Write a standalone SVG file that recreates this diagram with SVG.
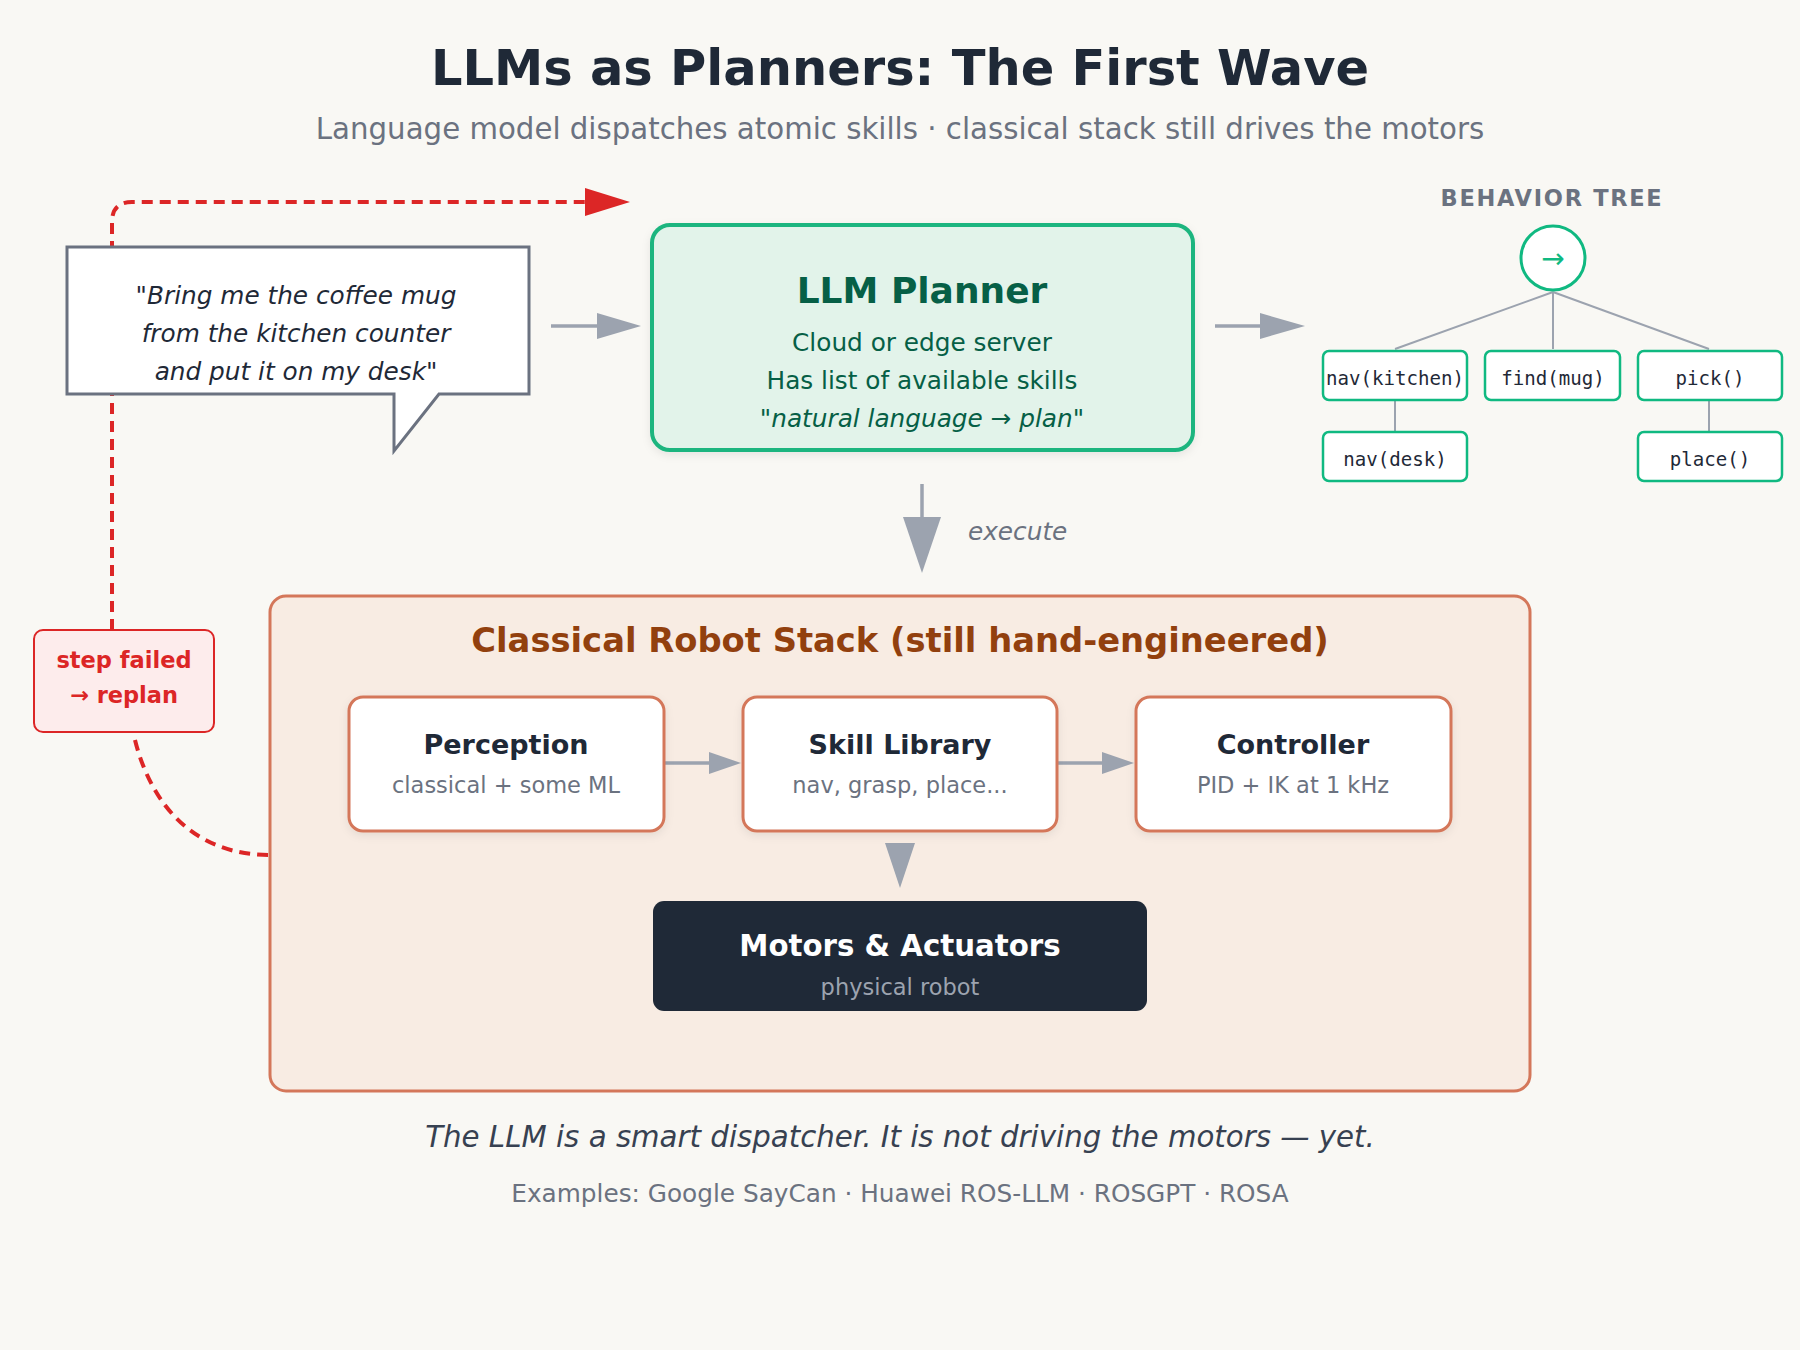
<svg xmlns="http://www.w3.org/2000/svg" width="1800" height="1350" viewBox="0 0 1800 1350">
<defs>
<style>
text{font-family:"DejaVu Sans","Liberation Sans",sans-serif}
.title{font-size:49.5px;font-weight:bold;fill:#1f2937;text-anchor:middle}
.sub{font-size:29.25px;fill:#6b7280;text-anchor:middle}
.bub{font-size:24.75px;font-style:italic;fill:#1f2937;text-anchor:middle}
.llmT{font-size:36px;font-weight:bold;fill:#065f46;text-anchor:middle}
.llmB{font-size:24.75px;fill:#065f46;text-anchor:middle}
.btL{font-size:22.5px;font-weight:bold;fill:#6b7280;text-anchor:middle;letter-spacing:1.7px}
.mono{font-family:"DejaVu Sans Mono","Liberation Mono",monospace;font-size:19.1px;fill:#1f2937;text-anchor:middle}
.btbox{fill:#ffffff;stroke:#10b981;stroke-width:2.5}
.btline{stroke:#9ca3af;stroke-width:2;fill:none}
.conn{stroke:#9ca3af;stroke-width:3.5;fill:none}
.head{fill:#9ca3af}
.stackT{font-size:33.75px;font-weight:bold;fill:#92400e;text-anchor:middle}
.inner{fill:#ffffff;stroke:#d4775a;stroke-width:3}
.inT{font-size:27px;font-weight:bold;fill:#1f2937;text-anchor:middle}
.inS{font-size:22.5px;fill:#6b7280;text-anchor:middle}
.red{stroke:#dc2626;stroke-width:4;fill:none;stroke-dasharray:11 7}
.redT{font-size:22.5px;font-weight:bold;fill:#dc2626;text-anchor:middle}
</style>
<filter id="sh" x="-10%" y="-10%" width="120%" height="130%">
<feDropShadow dx="0" dy="3" stdDeviation="4" flood-color="#000000" flood-opacity="0.08"/>
</filter>
</defs>
<rect width="1800" height="1350" fill="#f9f8f4"/>

<g id="header">
<text class="title" x="900" y="85">LLMs as Planners: The First Wave</text>
<text class="sub" x="900" y="139">Language model dispatches atomic skills · classical stack still drives the motors</text>
</g>

<g id="connectors">
<path class="red" d="M112 630 L112 222 Q112 202 132 202 L590 202"/>
<polygon points="585,188 630,202 585,216" fill="#dc2626"/>
<path class="red" d="M135 740 C150 800 190 855 270 855"/>
<line class="conn" x1="551" y1="326" x2="600" y2="326"/>
<polygon class="head" points="597,313 641,326 597,339"/>
<line class="conn" x1="1215" y1="326" x2="1263" y2="326"/>
<polygon class="head" points="1260,313 1305,326 1260,339"/>
<line class="conn" x1="922" y1="484" x2="922" y2="520"/>
<polygon class="head" points="903,517 941,517 922,573"/>
<text x="968" y="540" font-size="24.75" font-style="italic" fill="#6b7280">execute</text>
<line class="btline" x1="1553" y1="292" x2="1395" y2="349"/>
<line class="btline" x1="1553" y1="292" x2="1553" y2="349"/>
<line class="btline" x1="1553" y1="292" x2="1709" y2="349"/>
<line class="btline" x1="1395" y1="400" x2="1395" y2="432"/>
<line class="btline" x1="1709" y1="400" x2="1709" y2="432"/>
</g>

<g id="bubble">
<path d="M67 247 L529 247 L529 394 L439 394 L394 451 L394 394 L67 394 Z" fill="#ffffff" stroke="#6b7280" stroke-width="3" stroke-linejoin="miter"/>
<text class="bub" x="296" y="304">"Bring me the coffee mug</text>
<text class="bub" x="296" y="342">from the kitchen counter</text>
<text class="bub" x="296" y="380">and put it on my desk"</text>
</g>

<g id="llm-planner">
<rect x="652" y="225" width="541" height="225" rx="18" fill="#e2f3ea" stroke="#1fb57f" stroke-width="4" filter="url(#sh)"/>
<text class="llmT" x="922" y="303">LLM Planner</text>
<text class="llmB" x="922" y="351">Cloud or edge server</text>
<text class="llmB" x="922" y="389">Has list of available skills</text>
<text class="llmB" x="922" y="427">"<tspan font-style="italic">natural language → plan</tspan>"</text>
</g>

<g id="behavior-tree">
<text class="btL" x="1552" y="206">BEHAVIOR TREE</text>
<circle cx="1553" cy="258" r="32" fill="#ffffff" stroke="#10b981" stroke-width="3"/>
<text x="1553" y="268" font-size="28" fill="#10b981" text-anchor="middle">→</text>
<g id="bt-nav-kitchen"><rect class="btbox" x="1323" y="351" width="144" height="49" rx="6"/><text class="mono" x="1395" y="385">nav(kitchen)</text></g>
<g id="bt-find-mug"><rect class="btbox" x="1485" y="351" width="135" height="49" rx="6"/><text class="mono" x="1553" y="385">find(mug)</text></g>
<g id="bt-pick"><rect class="btbox" x="1638" y="351" width="144" height="49" rx="6"/><text class="mono" x="1710" y="385">pick()</text></g>
<g id="bt-nav-desk"><rect class="btbox" x="1323" y="432" width="144" height="49" rx="6"/><text class="mono" x="1395" y="466">nav(desk)</text></g>
<g id="bt-place"><rect class="btbox" x="1638" y="432" width="144" height="49" rx="6"/><text class="mono" x="1710" y="466">place()</text></g>
</g>

<g id="step-failed">
<rect x="34" y="630" width="180" height="102" rx="9" fill="#fdecec" stroke="#dc2626" stroke-width="2"/>
<text class="redT" x="124" y="668">step failed</text>
<text class="redT" x="124" y="703">→ replan</text>
</g>

<g id="classical-stack">
<rect x="270" y="596" width="1260" height="495" rx="16" fill="#f8ece3" stroke="#d4775a" stroke-width="3"/>
<text class="stackT" x="900" y="652">Classical Robot Stack (still hand-engineered)</text>
</g>

<g id="stack-connectors">
<line class="conn" x1="664" y1="763" x2="712" y2="763"/>
<polygon class="head" points="709,752 741,763 709,774"/>
<line class="conn" x1="1057" y1="763" x2="1105" y2="763"/>
<polygon class="head" points="1102,752 1134,763 1102,774"/>
<polygon class="head" points="885,843 915,843 900,888"/>
</g>

<g id="perception">
<rect class="inner" x="349" y="697" width="315" height="134" rx="14" filter="url(#sh)"/>
<text class="inT" x="506" y="754">Perception</text>
<text class="inS" x="506" y="793">classical + some ML</text>
</g>
<g id="skill-library">
<rect class="inner" x="743" y="697" width="314" height="134" rx="14" filter="url(#sh)"/>
<text class="inT" x="900" y="754">Skill Library</text>
<text class="inS" x="900" y="793">nav, grasp, place...</text>
</g>
<g id="controller">
<rect class="inner" x="1136" y="697" width="315" height="134" rx="14" filter="url(#sh)"/>
<text class="inT" x="1293" y="754">Controller</text>
<text class="inS" x="1293" y="793">PID + IK at 1 kHz</text>
</g>
<g id="motors">
<rect x="653" y="901" width="494" height="110" rx="11" fill="#1f2937"/>
<text x="900" y="956" font-size="29.25" font-weight="bold" fill="#ffffff" text-anchor="middle">Motors &amp; Actuators</text>
<text x="900" y="995" font-size="22.5" fill="#9ca3af" text-anchor="middle">physical robot</text>
</g>

<g id="footer">
<text x="900" y="1147" font-size="29.25" font-style="italic" fill="#374151" text-anchor="middle">The LLM is a smart dispatcher. It is not driving the motors — yet.</text>
<text x="900" y="1202" font-size="24.75" fill="#6b7280" text-anchor="middle">Examples: Google SayCan · Huawei ROS-LLM · ROSGPT · ROSA</text>
</g>
</svg>
